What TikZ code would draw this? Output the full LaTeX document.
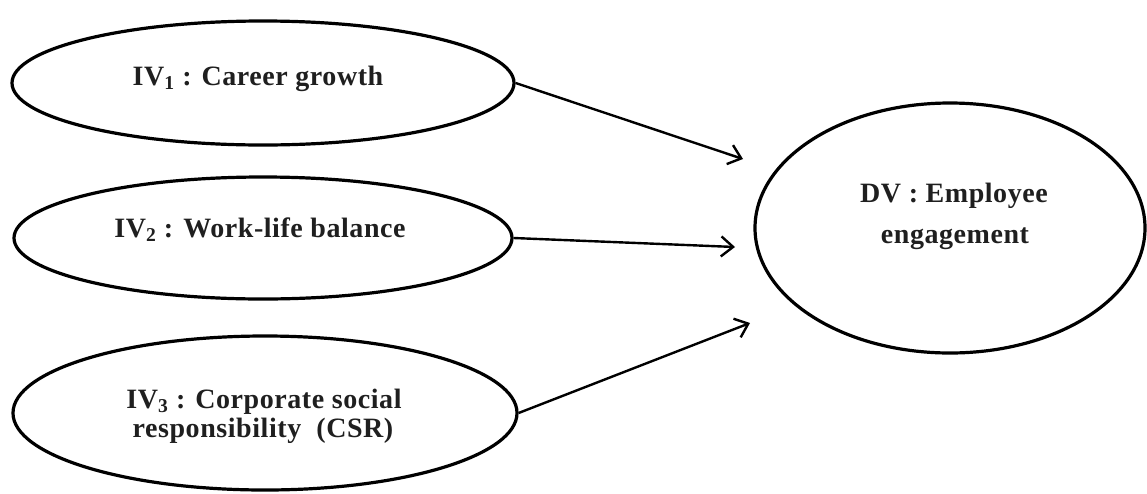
\documentclass[tikz,border=0pt]{standalone}
\usepackage{fontspec}
\setmainfont{Liberation Serif}[LetterSpace=2]
\usetikzlibrary{shapes.geometric,arrows.meta}
\tikzset{
  oval/.style={ellipse, draw=black, line width=3.2pt, inner sep=0pt},
  lbl/.style={anchor=base, inner sep=0pt, text=black!88, font=\fontsize{28}{31}\selectfont\bfseries},
  link/.style={line width=2.4pt, -{Straight Barb[length=12pt,width=20pt,line width=2.4pt]}}
}
\begin{document}
\begin{tikzpicture}[x=1pt,y=-1pt]
\useasboundingbox (0,0) rectangle (1147,493);
\node[oval, minimum width=502pt, minimum height=124pt] (iv1) at (263,83) {};
\node[oval, minimum width=498pt, minimum height=122pt] (iv2) at (263,238) {};
\node[oval, minimum width=504pt, minimum height=154pt] (iv3) at (265,413) {};
\node[oval, minimum width=390pt, minimum height=250pt] (dv) at (950,228) {};
\node[lbl] (t1) at (258,85) {IV\textsubscript{1} : Career growth};
\node[lbl] (t2) at (260,237) {IV\textsubscript{2} : Work-life balance};
\node[lbl] (t3a) at (264,408) {IV\textsubscript{3} : Corporate social};
\node[lbl] (t3b) at (263,437) {responsibility\ \ (CSR)};
\node[lbl] (d1) at (954,202) {DV : Employee};
\node[lbl] (d2) at (955,243) {engagement};
\coordinate (e1) at (743,159);
\coordinate (e2) at (735,247);
\coordinate (e3) at (750,323);
\draw[link] (iv1.east) -- (e1);
\draw[link] (iv2.east) -- (e2);
\draw[link] (iv3.east) -- (e3);
\end{tikzpicture}
\end{document}
